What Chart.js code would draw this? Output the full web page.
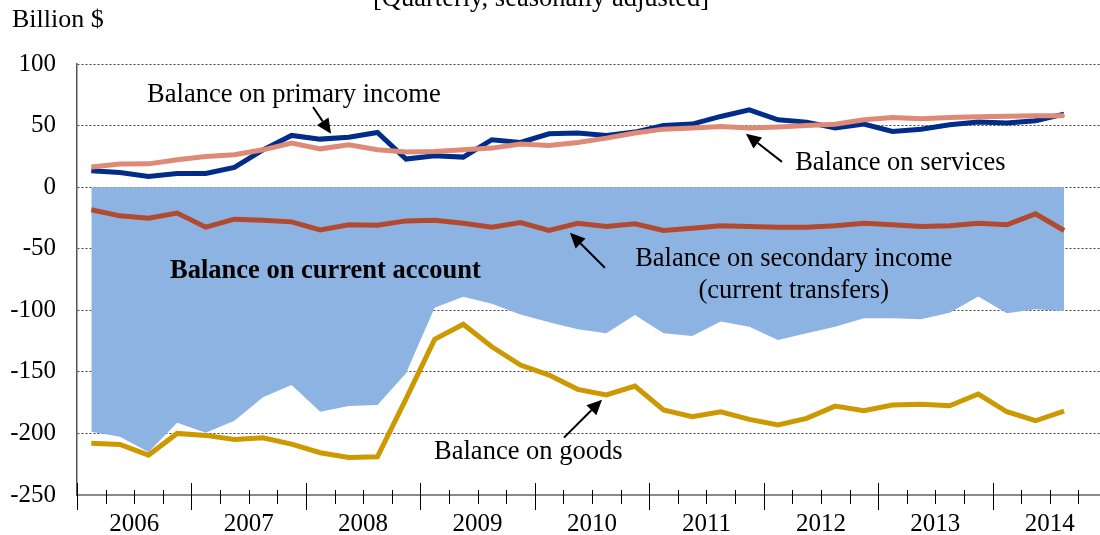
<!DOCTYPE html>
<html><head><meta charset="utf-8">
<script src="https://cdn.jsdelivr.net/npm/chart.js@4/dist/chart.umd.min.js"></script>
<style>html,body{margin:0;padding:0;background:#fff;overflow:hidden}#wrap{position:relative;width:1108px;height:535px}</style>
</head><body><div id="wrap"><canvas id="c" width="1108" height="535"></canvas></div>
<script>
const yearLabels = ['2006','2007','2008','2009','2010','2011','2012','2013','2014'];
const quarterNames = ['Q1','Q2','Q3','Q4'];
const yTicks = [100, 50, 0, -50, -100, -150, -200, -250];

const currentAccount = [-198.6,-202.7,-215.0,-191.3,-199.5,-189.7,-170.7,-160.7,-182.4,-177.8,-177.0,-151.2,-98.0,-89.0,-94.6,-103.5,-109.8,-115.4,-118.7,-103.8,-118.7,-120.9,-109.2,-113.3,-124.1,-118.7,-113.3,-106.5,-106.5,-107.3,-101.9,-88.9,-102.4,-99.2,-100.5];
const goods = [-208.0,-209.0,-217.6,-200.0,-201.6,-205.0,-203.5,-208.7,-215.7,-219.5,-219.0,-172.0,-123.6,-111.4,-129.6,-144.5,-152.6,-164.2,-168.8,-161.5,-181.0,-186.4,-182.4,-188.6,-193.2,-187.8,-177.8,-181.6,-177.0,-176.4,-177.5,-168.0,-182.4,-189.7,-181.8];
const services = [16.3,18.7,18.9,22.2,24.9,26.3,30.3,35.8,31.1,34.4,30.3,28.5,29.0,30.3,31.7,35.0,33.8,36.3,39.8,43.9,47.1,48.0,49.3,48.0,48.8,50.1,51.0,54.7,56.6,55.5,56.6,57.2,57.5,58.0,58.0];
const primaryIncome = [13.3,11.9,8.6,11.1,11.1,16.0,30.3,42.0,39.0,40.6,44.4,22.8,25.4,24.4,38.5,36.3,43.3,43.9,42.0,44.7,50.1,51.2,57.4,62.8,54.7,52.8,48.0,51.2,45.2,47.1,50.6,52.8,52.0,53.9,59.3];
const secondaryIncome = [-18.4,-23.3,-25.2,-21.1,-32.5,-26.0,-26.8,-28.2,-34.7,-30.6,-30.9,-27.4,-26.8,-29.3,-32.5,-28.7,-35.2,-29.3,-32.0,-29.8,-35.2,-33.3,-31.4,-32.0,-32.5,-32.5,-31.4,-29.3,-30.6,-32.0,-31.4,-29.3,-30.6,-21.7,-35.2];

const categories = [];
yearLabels.forEach(y => quarterNames.forEach(q => categories.push(y + ' ' + q)));

// annotation anchors in data space (x = category index, y = value)
const annotations = [
  {text:'Balance on primary income', x:1.95, y:75, align:'left', bold:false},
  {text:'Balance on services', x:24.6, y:19.7, align:'left', bold:false},
  {text:'Balance on secondary income', x:24.55, y:-58.2, align:'center', bold:false},
  {text:'(current transfers)', x:24.55, y:-84.2, align:'center', bold:false},
  {text:'Balance on goods', x:11.98, y:-214.8, align:'left', bold:false},
  {text:'Balance on current account', x:2.75, y:-67.9, align:'left', bold:true}
];
const arrows = [
  {x1:7.75, y1:65.1, x2:8.38, y2:43.3},
  {x1:24.14, y1:20.5, x2:22.88, y2:43.3},
  {x1:17.95, y1:-65.5, x2:16.73, y2:-37.1},
  {x1:16.52, y1:-203.4, x2:17.85, y2:-172.6}
];

const FONT = '"Liberation Serif", "Times New Roman", serif';

const overlay = {
  id: 'overlay',
  afterDraw(chart) {
    const {ctx, scales:{x, y}} = chart;
    ctx.save();
    // x-axis tick marks at quarter boundaries
    const n = categories.length;
    const step = (x.right - x.left) / n;
    const axisY = y.bottom;
    ctx.strokeStyle = '#000'; ctx.lineWidth = 1;
    for (let k = 0; k <= n; k++) {
      const px = Math.round(x.left + k * step) + 0.5;
      const major = k % 4 === 0;
      ctx.beginPath();
      ctx.moveTo(px, axisY - (major ? 12 : 5));
      ctx.lineTo(px, axisY + (major ? 15 : 9));
      ctx.stroke();
    }
    // annotations
    ctx.fillStyle = '#000';
    ctx.textBaseline = 'middle';
    for (const a of annotations) {
      ctx.font = (a.bold ? 'bold ' : '') + '26.5px ' + FONT;
      ctx.textAlign = a.align;
      ctx.fillText(a.text, x.getPixelForValue(a.x), y.getPixelForValue(a.y));
    }
    // arrows
    for (const ar of arrows) {
      const x1 = x.getPixelForValue(ar.x1), y1 = y.getPixelForValue(ar.y1);
      const x2 = x.getPixelForValue(ar.x2), y2 = y.getPixelForValue(ar.y2);
      const ang = Math.atan2(y2 - y1, x2 - x1);
      const L = 15, W = 7;
      const bx = x2 - L * Math.cos(ang), by = y2 - L * Math.sin(ang);
      ctx.strokeStyle = '#000'; ctx.lineWidth = 2;
      ctx.beginPath(); ctx.moveTo(x1, y1); ctx.lineTo(bx, by); ctx.stroke();
      ctx.beginPath();
      ctx.moveTo(x2, y2);
      ctx.lineTo(bx + W * Math.sin(ang), by - W * Math.cos(ang));
      ctx.lineTo(bx - W * Math.sin(ang), by + W * Math.cos(ang));
      ctx.closePath(); ctx.fill();
    }
    // header texts
    ctx.font = '26px ' + FONT;
    ctx.textBaseline = 'alphabetic';
    ctx.textAlign = 'left';
    ctx.fillText('Billion $', 12, 27);
    ctx.font = '26.5px ' + FONT;
    ctx.textAlign = 'center';
    ctx.fillText('[Quarterly, seasonally adjusted]', 541, 6);
    ctx.restore();
  }
};

const lineDs = (label, data, color, order) => ({
  label, data, borderColor: color, backgroundColor: color, borderWidth: 5,
  pointRadius: 0, fill: false, tension: 0, order, borderJoinStyle: 'miter'
});

new Chart(document.getElementById('c'), {
  type: 'line',
  data: {
    labels: categories,
    datasets: [
      {label:'Balance on current account', data: currentAccount, fill:'origin',
       backgroundColor:'#8DB3E2', borderColor:'rgba(0,0,0,0)', borderWidth:0, pointRadius:0, order:10},
      lineDs('Balance on goods', goods, '#CC9900', 5),
      lineDs('Balance on secondary income', secondaryIncome, '#B24A30', 4),
      lineDs('Balance on primary income', primaryIncome, '#002D8A', 3),
      lineDs('Balance on services', services, '#DE8A76', 2)
    ]
  },
  options: {
    responsive: false, animation: false, devicePixelRatio: 1,
    layout: {padding: {top: 64, left: 0, right: 1, bottom: 0}},
    plugins: {legend: {display: false}, tooltip: {enabled: false}, title: {display: false}},
    scales: {
      x: {
        type: 'category', offset: true,
        grid: {display: false, drawTicks: false},
        border: {display: true, color: '#8a8a8a', width: 2},
        ticks: {
          autoSkip: false, maxRotation: 0, minRotation: 0, padding: 14,
          labelOffset: 14.3, color: '#000', font: {family: FONT, size: 25},
          callback: (v, i) => (i % 4 === 1 ? yearLabels[Math.floor(i / 4)] : '')
        },
        afterFit: s => { s.height = 40; }
      },
      y: {
        min: -250, max: 100,
        afterBuildTicks: s => { s.ticks = yTicks.map(v => ({value: v})); },
        grid: {color: '#444', lineWidth: 1, drawTicks: false},
        border: {display: true, color: '#555', width: 1.5, dash: [2, 2]},
        ticks: {padding: 21, color: '#000', font: {family: FONT, size: 25}, callback: v => String(v)},
        afterFit: s => { s.width = 77; }
      }
    }
  },
  plugins: [overlay]
});
</script>
</body></html>
